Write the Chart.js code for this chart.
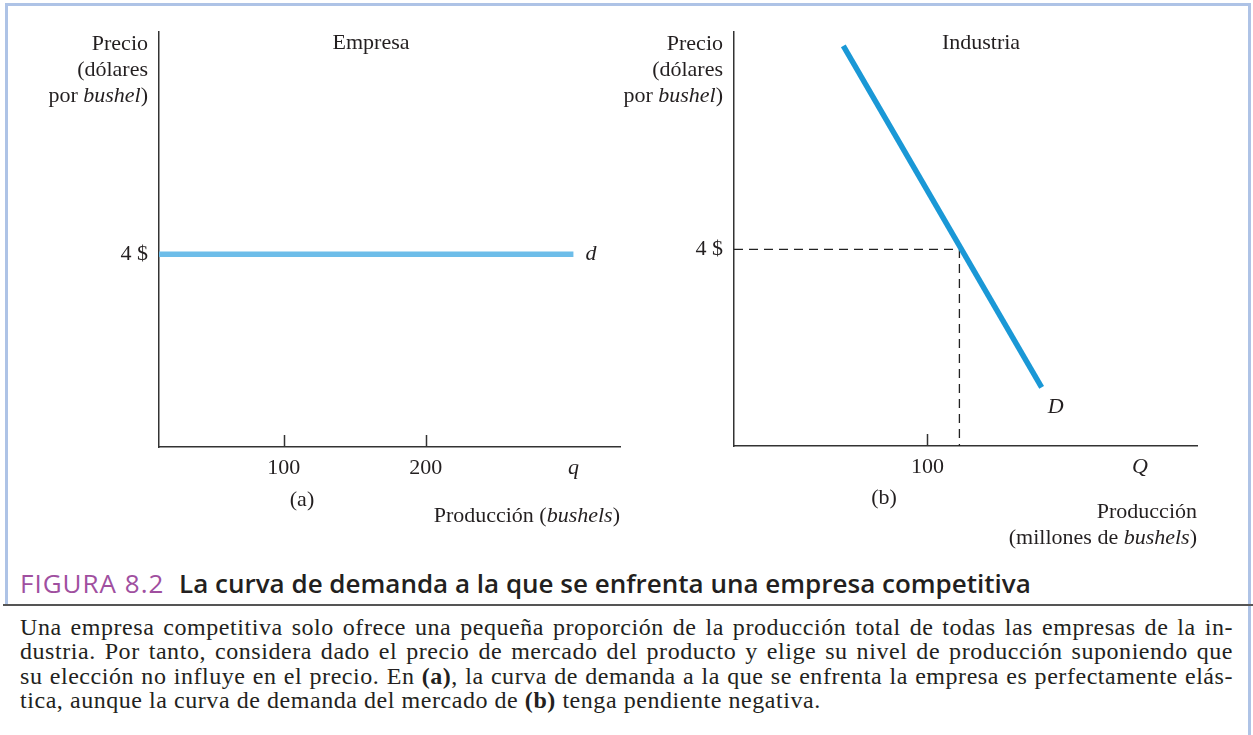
<!DOCTYPE html>
<html lang="es">
<head>
<meta charset="utf-8">
<script src="https://cdn.jsdelivr.net/npm/chart.js@4.4.0/dist/chart.umd.min.js"></script>
<style>
html,body{margin:0;padding:0;background:#fff;}
body{width:1253px;height:735px;position:relative;overflow:hidden;font-family:"Liberation Serif","Times New Roman",serif;color:#231f20;}
.t{position:absolute;white-space:nowrap;font-size:22px;line-height:26px;}
.r{text-align:right;}
#frame{position:absolute;left:5px;top:3px;width:1246px;height:603px;border:3px solid #aec3e6;border-bottom:none;box-sizing:border-box;}
#rightline{position:absolute;left:1248px;top:606px;width:3px;height:129px;background:#aec3e6;}
#rule{position:absolute;left:3px;top:604px;width:1250px;height:2px;background:#555;}
#title{position:absolute;left:20px;top:566px;font-family:"Open Sans",sans-serif;font-size:26px;line-height:34px;white-space:nowrap;color:#231f20;font-weight:600;}
#title .fig{color:#a04f9f;font-weight:400;letter-spacing:1px;margin-right:8px;}
#para{position:absolute;left:20px;top:615px;width:1213px;font-size:24px;line-height:24.3px;letter-spacing:0.55px;}
#para div{white-space:nowrap;text-align:justify;text-align-last:justify;}
#para div.last{text-align-last:left;}
canvas{position:absolute;}
</style>
</head>
<body>
<div id="frame"></div>
<div id="rightline"></div>

<canvas id="cA" width="640" height="540" style="left:0;top:0;width:640px;height:540px"></canvas>
<canvas id="cB" width="613" height="540" style="left:640px;top:0;width:613px;height:540px"></canvas>

<!-- panel (a) texts -->
<div class="t r" style="right:1105px;top:30px">Precio<br>(dólares<br>por <i>bushel</i>)</div>
<div class="t" style="left:371px;top:29px;transform:translateX(-50%)">Empresa</div>
<div class="t" style="left:302px;top:486px;transform:translateX(-50%)">(a)</div>
<div class="t r" style="right:633px;top:502px">Producción (<i>bushels</i>)</div>

<!-- panel (b) texts -->
<div class="t r" style="right:530px;top:30px">Precio<br>(dólares<br>por <i>bushel</i>)</div>
<div class="t" style="left:981px;top:29px;transform:translateX(-50%)">Industria</div>
<div class="t" style="left:884px;top:484px;transform:translateX(-50%)">(b)</div>
<div class="t r" style="right:56px;top:498px">Producción<br>(millones de <i>bushels</i>)</div>

<div id="rule"></div>
<div id="title"><span class="fig">FIGURA 8.2</span> La curva de demanda a la que se enfrenta una empresa competitiva</div>
<div id="para">
<div>Una empresa competitiva solo ofrece una pequeña proporción de la producción total de todas las empresas de la in-</div>
<div>dustria. Por tanto, considera dado el precio de mercado del producto y elige su nivel de producción suponiendo que</div>
<div>su elección no influye en el precio. En <b>(a)</b>, la curva de demanda a la que se enfrenta la empresa es perfectamente elás-</div>
<div class="last">tica, aunque la curva de demanda del mercado de <b>(b)</b> tenga pendiente negativa.</div>
</div>

<script>
// ---------- data: panel (a) Empresa ----------
const firmQ = [12.2, 304];          // output (bushels) along the firm's demand d
const firmP = [4, 4];               // price ($ per bushel)
const firmQTicks = [100, 200, 304];
const firmQTickLabels = ['100', '200', 'q'];
const firmPTicks = [4];
const firmPTickLabels = ['4 $'];
const firmQRange = [12.2, 336.8];
const firmPRange = [0, 8.61];

// ---------- data: panel (b) Industria ----------
const indQ = [56.5, 159];           // output (millions of bushels) along market demand D
const indP = [8.14, 1.19];
const eqGuideQ = [0, 116.5, 116.5]; // dashed guide to equilibrium
const eqGuideP = [4, 4, 0];
const indQTicks = [100, 209.8];
const indQTickLabels = ['100', 'Q'];
const indPTicks = [4];
const indPTickLabels = ['4 $'];
const indQRange = [0, 239.3];
const indPRange = [0, 8.42];

const SERIF = '"Liberation Serif","Times New Roman",serif';
const INK = '#231f20';

const toXY = (xs, ys) => xs.map((x, i) => ({x, y: ys[i]}));

const marksPlugin = {
  id: 'econMarks',
  afterDraw(chart, args, opts) {
    const ctx = chart.ctx;
    const xs = chart.scales.x, ys = chart.scales.y;
    ctx.save();
    ctx.strokeStyle = '#333';
    ctx.lineWidth = 1.5;
    (opts.tickValues || []).forEach(v => {
      const px = Math.round(xs.getPixelForValue(v)) + 0.5;
      ctx.beginPath();
      ctx.moveTo(px, ys.bottom);
      ctx.lineTo(px, ys.bottom - 12);
      ctx.stroke();
    });
    (opts.labels || []).forEach(l => {
      const meta = chart.getDatasetMeta(l.dataset);
      const pt = meta.data[meta.data.length - 1];
      ctx.fillStyle = INK;
      ctx.font = 'italic 22px ' + SERIF;
      ctx.textAlign = 'left';
      ctx.textBaseline = 'middle';
      ctx.fillText(l.text, pt.x + l.dx, pt.y + l.dy);
    });
    ctx.restore();
  }
};

function axisX(range, ticks, labels, italicLabel, height) {
  return {
    type: 'linear', min: range[0], max: range[1],
    grid: {drawOnChartArea: false, drawTicks: false},
    border: {display: true, color: '#333', width: 1.5},
    afterBuildTicks: s => { s.ticks = ticks.map(v => ({value: v})); },
    afterFit: s => { s.height = height; },
    ticks: {
      autoSkip: false, maxRotation: 0, padding: 8, color: INK,
      font: c => ({family: SERIF, size: 22, style: (c.tick && labels[ticks.indexOf(c.tick.value)] === italicLabel) ? 'italic' : 'normal'}),
      callback: v => labels[ticks.indexOf(v)]
    }
  };
}
function axisY(range, ticks, labels, width) {
  return {
    type: 'linear', min: range[0], max: range[1],
    grid: {drawOnChartArea: false, drawTicks: false},
    border: {display: true, color: '#333', width: 1.5},
    afterBuildTicks: s => { s.ticks = ticks.map(v => ({value: v})); },
    afterFit: s => { s.width = width; },
    ticks: {
      autoSkip: false, padding: 11, color: INK,
      font: {family: SERIF, size: 22},
      callback: v => labels[ticks.indexOf(v)]
    }
  };
}

const common = {
  responsive: false, animation: false,
  plugins: {legend: {display: false}, tooltip: {enabled: false}},
  elements: {point: {radius: 0}, line: {tension: 0, capBezierPoints: false}}
};

new Chart(document.getElementById('cA'), {
  type: 'line',
  data: {datasets: [{
    data: toXY(firmQ, firmP), borderColor: '#6dbde9', borderWidth: 5.5,
    borderCapStyle: 'butt', fill: false, pointRadius: 0
  }]},
  options: Object.assign({}, common, {
    layout: {padding: {top: 32, right: 20, left: 0, bottom: 0}},
    scales: {
      x: axisX(firmQRange, firmQTicks, firmQTickLabels, 'q', 93),
      y: axisY(firmPRange, firmPTicks, firmPTickLabels, 159)
    },
    plugins: Object.assign({}, common.plugins, {
      econMarks: {tickValues: [100, 200], labels: [{dataset: 0, text: 'd', dx: 12, dy: 0}]}
    })
  }),
  plugins: [marksPlugin]
});

new Chart(document.getElementById('cB'), {
  type: 'line',
  data: {datasets: [
    {data: toXY(indQ, indP), borderColor: '#1a98d6', borderWidth: 5.5, borderCapStyle: 'butt', fill: false, pointRadius: 0},
    {data: toXY(eqGuideQ, eqGuideP), borderColor: '#222', borderWidth: 1.3, borderDash: [9, 6], fill: false, pointRadius: 0}
  ]},
  options: Object.assign({}, common, {
    layout: {padding: {top: 32, right: 56, left: 0, bottom: 0}},
    scales: {
      x: axisX(indQRange, indQTicks, indQTickLabels, 'Q', 94),
      y: axisY(indPRange, indPTicks, indPTickLabels, 94)
    },
    plugins: Object.assign({}, common.plugins, {
      econMarks: {tickValues: [100], labels: [{dataset: 0, text: 'D', dx: 6, dy: 20}]}
    })
  }),
  plugins: [marksPlugin]
});
</script>
</body>
</html>
